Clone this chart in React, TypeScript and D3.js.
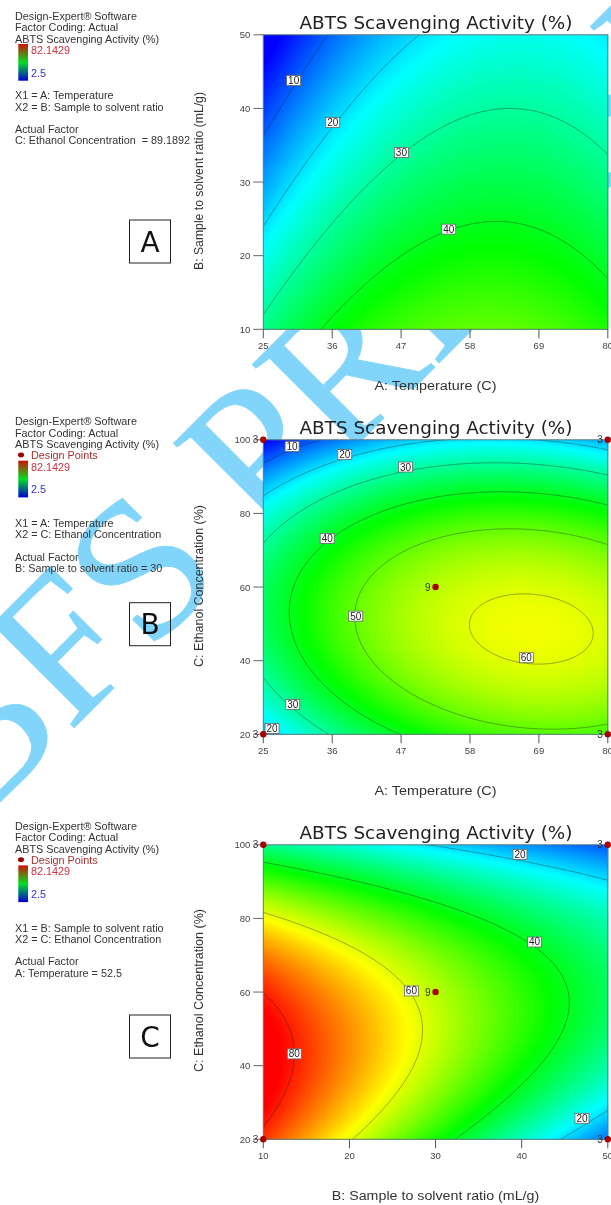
import React, { useMemo } from "react";
import * as d3 from "d3";

const W = 344.5, H = 294.5;
const colorStops = [2.5, 22.41, 42.32, 62.23, 82.14];
const colorNames = ["#0000ff", "#00ffff", "#00ff00", "#ffff00", "#ff0000"];
const barStops = ["#0000d8", "#00e020", "#d01000"];

const tempTicks = [25, 36, 47, 58, 69, 80];
const ratioTicks = [10, 20, 30, 40, 50];
const ethanolTicks = [20, 40, 60, 80, 100];

// Response; rows run from top of the y axis to the bottom.
const gridA = [
  [-0.92, 10.59, 18.51, 22.85, 23.61, 20.78],
  [7.0, 18.05, 25.52, 29.4, 29.69, 26.41],
  [15.08, 25.67, 32.67, 36.09, 35.93, 32.18],
  [23.31, 33.43, 39.98, 42.94, 42.31, 38.11],
  [31.68, 41.35, 47.43, 49.93, 48.85, 44.18],
];
const gridB = [
  [1.59, 11.43, 17.76, 20.58, 19.87, 15.64],
  [24.31, 34.96, 42.1, 45.73, 45.83, 42.41],
  [34.54, 46.0, 53.95, 58.39, 59.3, 56.69],
  [32.26, 44.53, 53.29, 58.54, 60.26, 58.46],
  [17.49, 30.57, 40.14, 46.2, 48.73, 47.74],
];
const gridC = [
  [31.74, 25.42, 19.54, 14.12, 9.14],
  [62.04, 52.97, 44.34, 36.17, 28.44],
  [79.84, 68.02, 56.64, 45.72, 35.24],
  [85.14, 70.57, 56.44, 42.77, 29.54],
  [77.94, 60.62, 43.74, 27.32, 11.34],
];

const levelsA = [10, 20, 30, 40];
const levelsB = [10, 20, 30, 40, 50, 60];
const levelsC = [20, 40, 60, 80];

const labelsA = [[29.85, 43.8, 10], [36.08, 38.1, 20], [47.05, 34, 30], [54.6, 23.6, 40]];
const labelsB = [[29.6, 98.2, 10], [38, 96, 20], [47.7, 92.6, 30], [35.2, 73.2, 40], [39.75, 52.1, 50], [67, 40.8, 60], [29.7, 28.1, 30], [26.4, 21.6, 20]];
const labelsC = [[39.8, 97.4, 20], [41.5, 73.6, 40], [27.2, 60.3, 60], [13.6, 43.2, 80], [47, 25.7, 20]];

const pointsB = [[25, 100, 3], [80, 100, 3], [25, 20, 3], [80, 20, 3], [52.5, 60, 9]];
const pointsC = [[10, 100, 3], [50, 100, 3], [10, 20, 3], [50, 20, 3], [30, 60, 9]];

const TITLE = "ABTS Scavenging Activity (%)";
const WATERMARK = "BFS PRESSP";
const legendHead = ["Design-Expert\u00ae Software", "Factor Coding: Actual", "ABTS Scavenging Activity (%)"];
const legendA = ["X1 = A: Temperature", "X2 = B: Sample to solvent ratio", "", "Actual Factor", "C: Ethanol Concentration  = 89.1892"];
const legendB = ["X1 = A: Temperature", "X2 = C: Ethanol Concentration", "", "Actual Factor", "B: Sample to solvent ratio = 30"];
const legendC = ["X1 = B: Sample to solvent ratio", "X2 = C: Ethanol Concentration", "", "Actual Factor", "A: Temperature = 52.5"];

const color = d3.scaleLinear<string>().domain(colorStops).range(colorNames).clamp(true);

function cr(p0: number, p1: number, p2: number, p3: number, t: number) {
  return 0.5 * (2 * p1 + (p2 - p0) * t + (2 * p0 - 5 * p1 + 4 * p2 - p3) * t * t + (3 * p1 - p0 - 3 * p2 + p3) * t * t * t);
}
function sample1(a: number[], u: number) {
  const n = a.length;
  const i = Math.max(0, Math.min(n - 2, Math.floor(u)));
  const g = (k: number) => (k < 0 ? 3 * a[0] - 3 * a[1] + a[2] : k >= n ? 3 * a[n - 1] - 3 * a[n - 2] + a[n - 3] : a[k]);
  return cr(g(i - 1), g(i), g(i + 1), g(i + 2), u - i);
}
function field(grid: number[][], px: number, py: number) {
  const u = (px / W) * (grid[0].length - 1);
  const v = (py / H) * (grid.length - 1);
  return sample1(grid.map((r) => sample1(r, u)), v);
}

function Panel({ x0, y0, grid, levels, labels, points, xTicks, yTicks, xTitle, yTitle, xTitleY, yTitleLen, yTitleY, xTitleLen, titleY, id }: any) {
  const x = d3.scaleLinear().domain([xTicks[0], xTicks[xTicks.length - 1]]).range([0, W]);
  const y = d3.scaleLinear().domain([yTicks[0], yTicks[yTicks.length - 1]]).range([H, 0]);
  const { href, paths } = useMemo(() => {
    const w = Math.ceil(W), h = Math.ceil(H);
    const c = document.createElement("canvas");
    c.width = w; c.height = h;
    const ctx = c.getContext("2d")!;
    const img = ctx.createImageData(w, h);
    for (let j = 0; j < h; j++) for (let i = 0; i < w; i++) {
      const col = d3.rgb(color(field(grid, i + 0.5, j + 0.5)));
      const o = (j * w + i) * 4;
      img.data[o] = col.r; img.data[o + 1] = col.g; img.data[o + 2] = col.b; img.data[o + 3] = 255;
    }
    ctx.putImageData(img, 0, 0);
    const pad = 4, gw = w + 2 * pad, gh = h + 2 * pad;
    const vals = new Float64Array(gw * gh);
    for (let j = 0; j < gh; j++) for (let i = 0; i < gw; i++) vals[j * gw + i] = field(grid, i - pad + 0.5, j - pad + 0.5);
    const cs = d3.contours().size([gw, gh]).thresholds(levels)(vals as any);
    const path = d3.geoPath(d3.geoTransform({ point(a: number, b: number) { (this as any).stream.point(a - pad, b - pad); } }));
    return { href: c.toDataURL(), paths: cs.map((k) => path(k as any) as string) };
  }, [grid, levels]);
  return (
    <g>
      <text x={436} y={titleY} textAnchor="middle" fontFamily="'DejaVu Sans'" fontSize={18} fill="#222" textLength={273} lengthAdjust="spacingAndGlyphs">{TITLE}</text>
      <g transform={`translate(${x0},${y0})`}>
        <clipPath id={id}><rect width={W} height={H} /></clipPath>
        <image href={href} width={Math.ceil(W)} height={Math.ceil(H)} preserveAspectRatio="none" />
        <g clipPath={`url(#${id})`}>
          {paths.map((d: string, i: number) => <path key={i} d={d} fill="none" stroke="#222" strokeWidth={0.6} strokeOpacity={0.65} />)}
        </g>
        <rect width={W} height={H} fill="none" stroke="#5a7a80" strokeWidth={1} />
        {xTicks.map((t: number) => (
          <g key={t} transform={`translate(${x(t)},0)`}>
            <line y1={H} y2={H + 9} stroke="#555" strokeWidth={1} />
            <text y={H + 16.4} textAnchor="middle" dominantBaseline="central" fontFamily="'Liberation Sans'" fontSize={9.5} fill="#444">{t}</text>
          </g>
        ))}
        {yTicks.map((t: number) => (
          <g key={t} transform={`translate(0,${y(t)})`}>
            <line x1={-10} x2={0} stroke="#666" strokeWidth={1} />
            <text x={-13} textAnchor="end" dominantBaseline="central" fontFamily="'Liberation Sans'" fontSize={9.5} fill="#444">{t}</text>
          </g>
        ))}
        {labels.map(([a, b, v]: number[], i: number) => (
          <g key={i} transform={`translate(${x(a)},${y(b)})`}>
            <rect x={-7} y={-5} width={14} height={10} fill="#fff" stroke="#666" strokeWidth={0.8} />
            <text textAnchor="middle" dominantBaseline="central" fontFamily="'Liberation Sans'" fontSize={10} fill="#222">{v}</text>
          </g>
        ))}
        {(points || []).map(([a, b, n]: number[], i: number) => (
          <g key={i} transform={`translate(${x(a)},${y(b)})`}>
            <text x={-5} textAnchor="end" dominantBaseline="central" fontFamily="'Liberation Sans'" fontSize={10} fill="#333">{n}</text>
            <circle r={3.2} fill="#a80000" />
          </g>
        ))}
      </g>
      <text x={435.5} y={xTitleY} textAnchor="middle" dominantBaseline="central" fontFamily="'Liberation Sans'" fontSize={12} fill="#333" textLength={xTitleLen} lengthAdjust="spacingAndGlyphs">{xTitle}</text>
      <text transform={`translate(199,${yTitleY}) rotate(-90)`} textAnchor="middle" dominantBaseline="central" fontFamily="'Liberation Sans'" fontSize={12.5} fill="#333" textLength={yTitleLen} lengthAdjust="spacingAndGlyphs">{yTitle}</text>
    </g>
  );
}

function Legend({ top, lines, designPoints, factorTop, boxY, letter }: any) {
  const t = (s: string, y: number, fill = "#333", x = 15) => (
    <text key={s + y} x={x} y={y} dominantBaseline="central" fontFamily="'Liberation Sans'" fontSize={10.8} fill={fill} xmlSpace="preserve">{s}</text>
  );
  const barTop = designPoints ? top + 39.4 : top + 28;
  const gid = "bar" + letter;
  return (
    <g>
      {legendHead.map((s, i) => t(s, top + i * 11.4))}
      {designPoints && <ellipse cx={21} cy={top + 33.7} rx={3} ry={2.4} fill="#a00000" />}
      {designPoints && t("Design Points", top + 33.7, "#a83030", 31)}
      <defs>
        <linearGradient id={gid} x1="0" x2="0" y1="1" y2="0">
          {barStops.map((s, i) => <stop key={s} offset={`${(i / 2) * 100}%`} stopColor={s} />)}
        </linearGradient>
      </defs>
      <rect x={18.3} y={barTop} width={9.7} height={36.7} fill={`url(#${gid})`} />
      {t("82.1429", barTop + 6, "#d03040", 31)}
      {t("2.5", barTop + 28.5, "#3030d0", 31)}
      {lines.map((s: string, i: number) => s ? t(s, factorTop + i * 11.2) : null)}
      <rect x={129.5} y={boxY} width={41} height={43} fill="none" stroke="#222" strokeWidth={1} />
      <text x={150} y={boxY + 22} textAnchor="middle" dominantBaseline="central" fontFamily="'DejaVu Sans'" fontSize={28} fill="#111">{letter}</text>
    </g>
  );
}

export default function App() {
  return (
    <svg width={611} height={1205} style={{ position: "absolute", left: 0, top: 0, display: "block" }}>
      <defs>
        <filter id="soft" filterUnits="userSpaceOnUse" x={0} y={0} width={611} height={1205} colorInterpolationFilters="sRGB">
          <feGaussianBlur stdDeviation={0.5} />
        </filter>
      </defs>
      <rect width={611} height={1205} fill="#fff" />
      <g filter="url(#soft)">
        <rect width={611} height={1205} fill="#fff" />
        <text transform="translate(-25,827) rotate(-45)" fontFamily="'Liberation Serif'" fontSize={200} fill="#82d5fa" stroke="#82d5fa" strokeWidth={0.8}>{WATERMARK}</text>
        <Legend top={16} lines={legendA} factorTop={95.3} boxY={220} letter="A" />
        <Legend top={421.3} lines={legendB} designPoints factorTop={523} boxY={602.7} letter="B" />
        <Legend top={826} lines={legendC} designPoints factorTop={927.7} boxY={1015} letter="C" />
        <Panel id="a" x0={263.3} y0={34.8} grid={gridA} levels={levelsA} labels={labelsA} xTicks={tempTicks} yTicks={ratioTicks} xTitle="A: Temperature (C)" yTitle="B: Sample to solvent ratio (mL/g)" xTitleY={385.7} xTitleLen={122} yTitleLen={178} yTitleY={181} titleY={29} />
        <Panel id="b" x0={263.3} y0={439.8} grid={gridB} levels={levelsB} labels={labelsB} points={pointsB} xTicks={tempTicks} yTicks={ethanolTicks} xTitle="A: Temperature (C)" yTitle="C: Ethanol Concentration  (%)" xTitleY={790.7} xTitleLen={122} yTitleLen={162} yTitleY={586} titleY={433.5} />
        <Panel id="c" x0={263.3} y0={844.8} grid={gridC} levels={levelsC} labels={labelsC} points={pointsC} xTicks={ratioTicks} yTicks={ethanolTicks} xTitle="B: Sample to solvent ratio (mL/g)" yTitle="C: Ethanol Concentration  (%)" xTitleY={1195.7} xTitleLen={207.5} yTitleLen={163} yTitleY={990.5} titleY={838.7} />
      </g>
    </svg>
  );
}
